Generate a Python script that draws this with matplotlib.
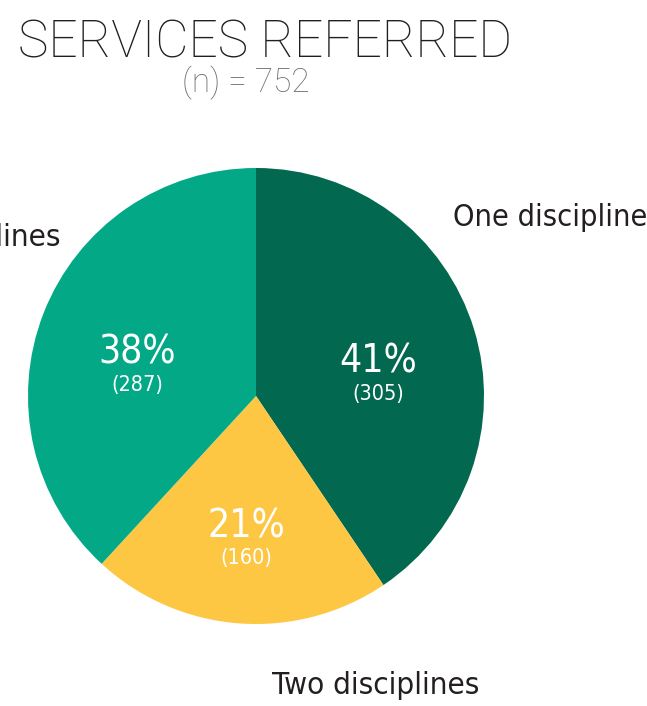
import numpy as np
import matplotlib
matplotlib.use("Agg")
import matplotlib.pyplot as plt

# data
categories = ["One discipline", "Two disciplines", "Three or more disciplines"]
counts = [305, 160, 287]
n_total = 752
colors = ["#026850", "#FDC744", "#03A886"]

W, H = 647, 706
fig = plt.figure(figsize=(W / 100, H / 100), dpi=100)
ax = fig.add_axes([0, 0, 1, 1])

cx, cy, R = 256, H - 396, 228
ax.pie(counts, colors=colors, startangle=90, counterclock=False,
       center=(cx, cy), radius=R, wedgeprops=dict(linewidth=0))
ax.set_xlim(0, W)
ax.set_ylim(0, H)
ax.set_axis_off()

narrow = dict(family="DejaVu Sans", fontstretch="condensed")
light = dict(family=["Roboto", "DejaVu Sans"], fontweight="light")
txt = "#231F20"

# percent + count labels inside the wedges
total = sum(counts)
cum = np.cumsum([0] + counts[:-1])
for c, start in zip(counts, cum):
    mid = (start + c / 2) / total * 2 * np.pi
    x = cx + 0.56 * R * np.sin(mid)
    y = cy + 0.56 * R * np.cos(mid)
    pct = round(c / total * 100)
    ax.text(x, y - 14, f"{pct}%", ha="center", va="baseline", color="white",
            fontsize=28, **narrow)
    ax.text(x, y - 35, f"({c})", ha="center", va="center", color="white",
            fontsize=15.5, **narrow)

# category labels
ax.text(453, H - 217, categories[0], ha="left", va="center", color=txt,
        fontsize=22, **narrow)
ax.text(376, H - 686, categories[1], ha="center", va="center", color=txt,
        fontsize=22.5, **narrow)
ax.text(60, H - 238, categories[2], ha="right", va="center", color=txt,
        fontsize=22.5, **narrow)

# title
fig.text(18 / W, 1 - 44 / H, "SERVICES REFERRED", ha="left", va="center",
         color=txt, fontsize=37, **light)
fig.text(246 / W, 1 - 83 / H, f"(n) = {n_total}", ha="center", va="center",
         color="#707070", fontsize=24, **light)

fig.savefig("out.png", dpi=100)
